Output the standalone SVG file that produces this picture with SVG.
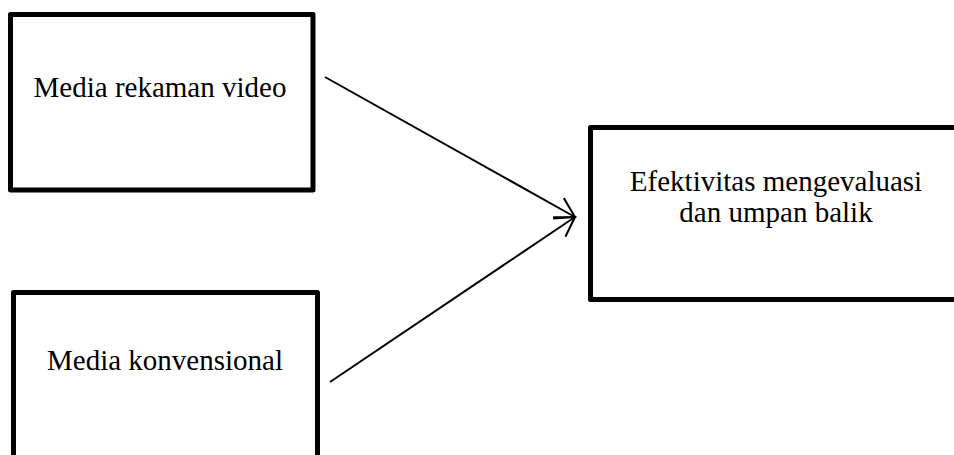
<svg xmlns="http://www.w3.org/2000/svg" width="954" height="455" viewBox="0 0 954 455">
<style>
.box{fill:#fff;stroke:#000;stroke-width:5;stroke-linejoin:round}
.lbl{font-family:"Liberation Serif","Times New Roman",serif;font-size:29px;fill:#000;text-anchor:middle}
.conn{stroke:#000;stroke-width:2;fill:none}
</style>
<defs>
<marker id="arr" markerUnits="userSpaceOnUse" markerWidth="30" markerHeight="30" refX="0" refY="0" viewBox="-25 -15 30 30" orient="auto" overflow="visible">
<path d="M-19,-11 L0,0 L-19,11" fill="none" stroke="#000" stroke-width="2"/>
</marker>
</defs>
<rect width="954" height="455" fill="#fff"/>
<g id="node-video">
<rect class="box" x="10.5" y="14.5" width="302.5" height="175.5"/>
<text class="lbl" x="160" y="97">Media rekaman video</text>
</g>
<g id="node-konvensional">
<rect class="box" x="13.5" y="292.5" width="304" height="180"/>
<text class="lbl" x="165" y="370">Media konvensional</text>
</g>
<g id="node-efektivitas">
<rect class="box" x="590.5" y="127.5" width="380" height="172"/>
<text class="lbl" x="776" y="191">Efektivitas mengevaluasi</text>
<text class="lbl" x="776" y="222">dan umpan balik</text>
</g>
<g id="connectors">
<line class="conn" x1="325" y1="77" x2="575" y2="217" marker-end="url(#arr)"/>
<line class="conn" x1="330" y1="382" x2="575" y2="217" marker-end="url(#arr)"/>
</g>
</svg>
